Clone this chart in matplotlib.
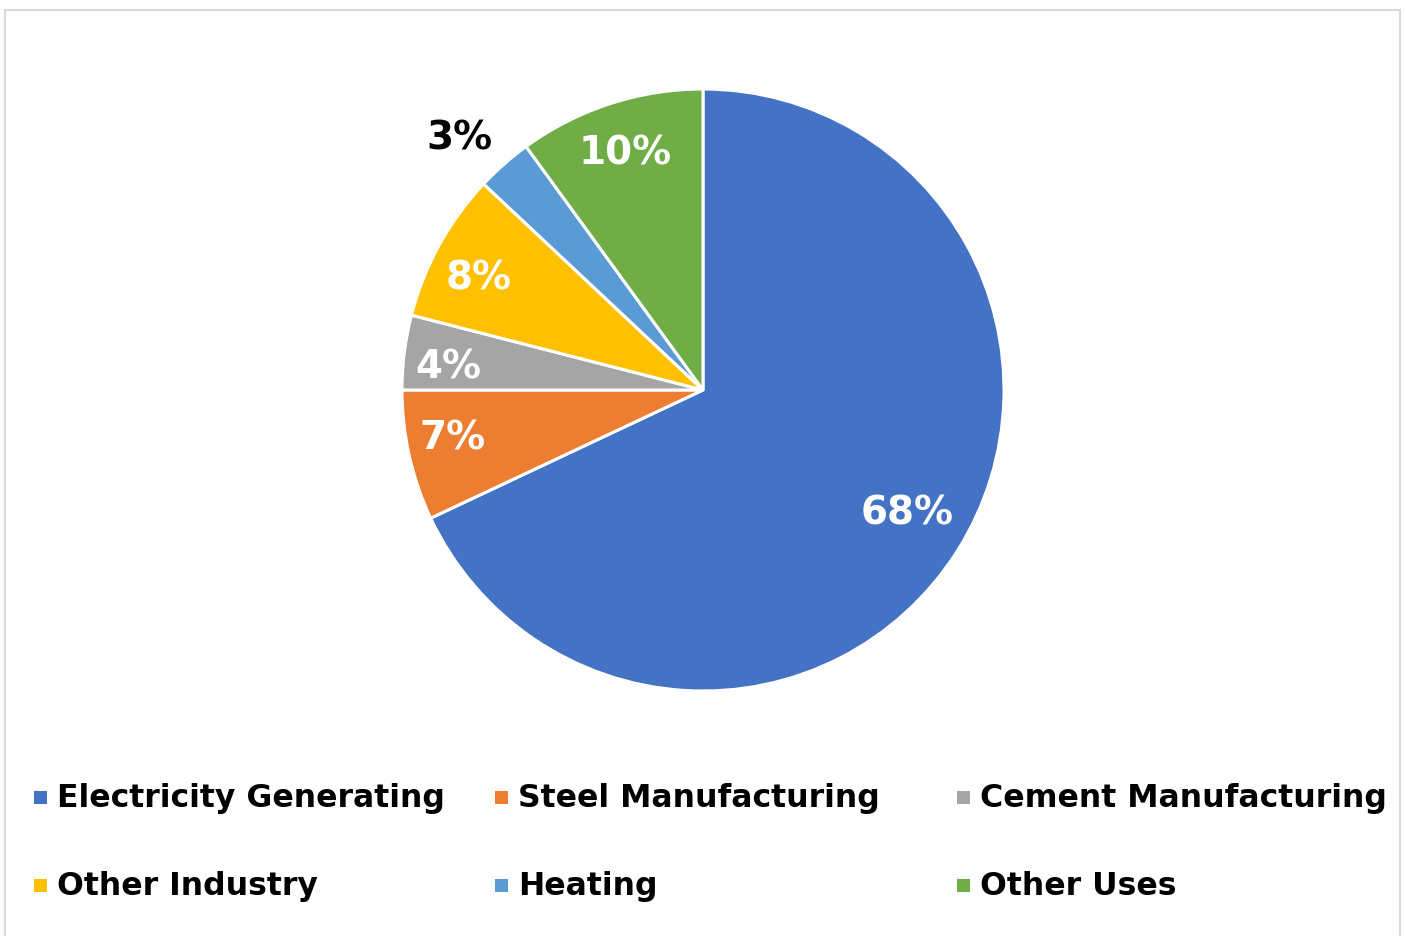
import matplotlib.pyplot as plt
from matplotlib.patches import Rectangle
import numpy as np

sectors = ['Electricity Generating', 'Steel Manufacturing', 'Cement Manufacturing',
           'Other Industry', 'Heating', 'Other Uses']
shares = [68, 7, 4, 8, 3, 10]
colors = ['#4472C4', '#ED7D31', '#A5A5A5', '#FFC000', '#5B9BD5', '#70AD47']

plt.rcParams['font.family'] = ['DejaVu Sans']
plt.rcParams['font.weight'] = 'bold'

W, H = 1405, 936
fig = plt.figure(figsize=(W / 100, H / 100), dpi=100)

# light grey chart border
fig.patches.append(Rectangle((5 / W, -0.01), 1395 / W, 1 - 10 / H + 0.01,
                             transform=fig.transFigure, fill=False,
                             edgecolor='#D9D9D9', linewidth=1.5))

cx, cy, r = 703, 390, 301
ax = fig.add_axes([(cx - r) / W, (H - cy - r) / H, 2 * r / W, 2 * r / H])
wedges, _ = ax.pie(shares, colors=colors, startangle=90, counterclock=False,
                   wedgeprops=dict(edgecolor='white', linewidth=2.2))
ax.set_xlim(-1, 1)
ax.set_ylim(-1, 1)
ax.set_aspect('equal')
ax.axis('off')

# data labels: (radius, angle nudge in degrees); heating label sits outside
label_pos = [(0.79, 1.6), (0.845, -2.1), (0.849, 1.7),
             (0.837, 1.9), (1.169, 2.5), (0.835, 0.0)]
for w, v, (d, nudge) in zip(wedges, shares, label_pos):
    mid = np.deg2rad((w.theta1 + w.theta2) / 2 + nudge)
    col = 'black' if d > 1 else 'white'
    ax.text(d * np.cos(mid), d * np.sin(mid) - 0.007, f'{v}%',
            ha='center', va='center', fontsize=28, fontweight='bold', color=col)

# legend laid out in three evenly spaced columns, two rows
col_x = [40, 501, 963]
row_y = [797, 885]
for i, (name, c) in enumerate(zip(sectors, colors)):
    x = col_x[i % 3]
    y = row_y[i // 3]
    fig.patches.append(Rectangle(((x - 6.5) / W, 1 - (y + 6.5) / H), 13 / W, 13 / H,
                                 transform=fig.transFigure, facecolor=c,
                                 edgecolor='none'))
    # baseline alignment keeps every entry of a row on the same line
    fig.text((x + 17) / W, 1 - (y + 10) / H, name, ha='left', va='baseline',
             fontsize=22.7, fontweight='bold', color='black')

fig.savefig('out.png', dpi=100)
